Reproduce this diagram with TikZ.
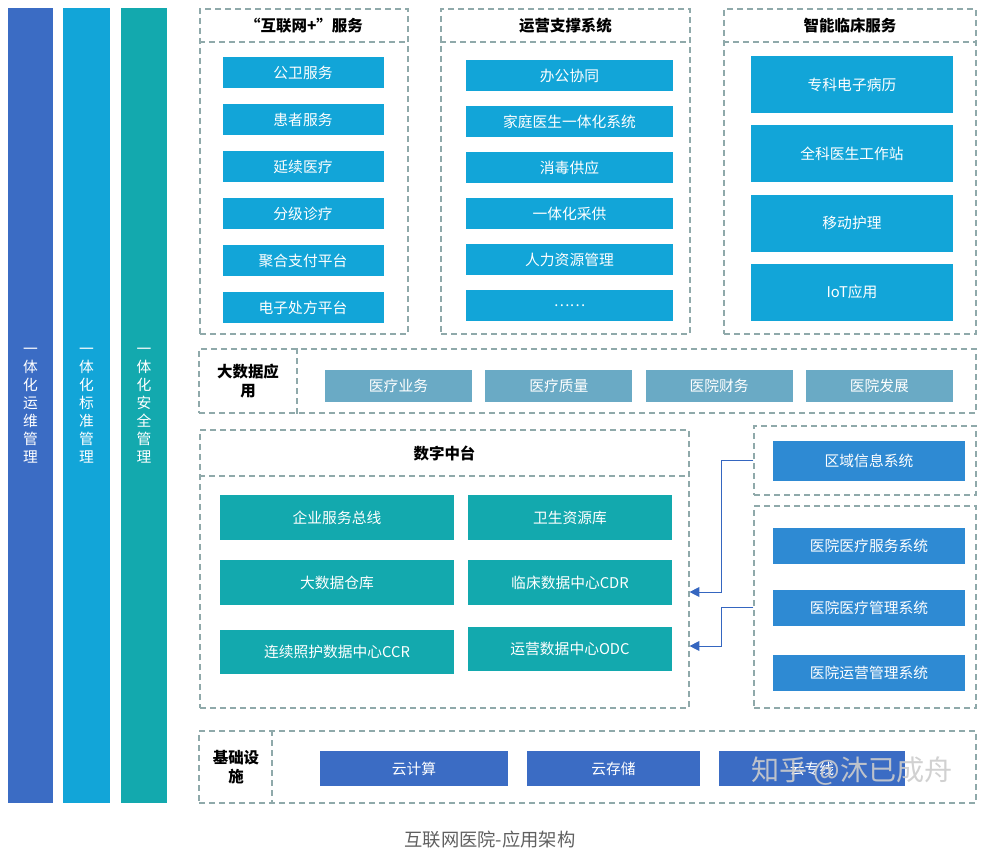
\documentclass[tikz,border=0pt]{standalone}
\usepackage{fontspec}
\setmainfont{Noto Sans CJK SC}
\usepackage{xcolor}
\usepackage{tikz}
\usetikzlibrary{positioning, arrows.meta}

\definecolor{barblue}{HTML}{3B6CC4}
\definecolor{barcyan}{HTML}{12A5D8}
\definecolor{barteal}{HTML}{13A9AE}
\definecolor{bdsteel}{HTML}{6AAAC5}
\definecolor{sysblue}{HTML}{2E8AD3}
\definecolor{dashgray}{HTML}{8FA9AA}
\definecolor{linkblue}{HTML}{3566C0}

\begin{document}
\begin{tikzpicture}[
    x=0.25mm, y=-0.25mm,
    every node/.style={font=\fontsize{10.5}{13}\selectfont},
    panel/.style={rectangle, draw=dashgray, dash pattern=on 1.5mm off 1mm, line width=0.8pt, inner sep=0pt},
    sep/.style={draw=dashgray, dash pattern=on 1.5mm off 1mm, line width=0.8pt},
    bar/.style={rectangle, minimum height=198.75mm, align=center, text=white, inner sep=0pt, font=\fontsize{10.5}{12.8}\selectfont},
    item/.style={rectangle, text=white, inner sep=0pt},
    head/.style={font=\fontsize{11}{13}\selectfont\bfseries, align=center},
    link/.style={draw=linkblue, line width=0.6pt, -{Triangle[width=7pt, length=7pt]}}
]
    \useasboundingbox (0,0) rectangle (985,852);

    % Left bars
    \node[bar, fill=barblue, minimum width=11.25mm] (ops) at (30.5,405.5) {一\\体\\化\\运\\维\\管\\理};
    \node[bar, fill=barcyan, minimum width=11.75mm] (std) at (86.5,405.5) {一\\体\\化\\标\\准\\管\\理};
    \node[bar, fill=barteal, minimum width=11.5mm] (sec) at (144,405.5) {一\\体\\化\\安\\全\\管\\理};

    % Top panels
    \node[panel, minimum width=52mm, minimum height=81.25mm] (web) at (304,171.5) {};
    \node[panel, minimum width=62.25mm, minimum height=81.25mm] (opsys) at (565.5,171.5) {};
    \node[panel, minimum width=63mm, minimum height=81.25mm] (clinic) at (850,171.5) {};
    \draw[sep] (web.west |- 0,42) -- (web.east |- 0,42);
    \draw[sep] (opsys.west |- 0,42) -- (opsys.east |- 0,42);
    \draw[sep] (clinic.west |- 0,42) -- (clinic.east |- 0,42);
    \node[head] (webhead) at (304,26) {“互联网+”服务};
    \node[head] (opshead) at (565.5,26) {运营支撑系统};
    \node[head] (clinichead) at (850,26) {智能临床服务};

    \foreach \t [count=\i] in {公卫服务,患者服务,延续医疗,分级诊疗,聚合支付平台,电子处方平台}
        \node[item, fill=barcyan, minimum width=40.25mm, minimum height=7.75mm] (web\i) at (303,25.5+47*\i) {\t};
    \foreach \t [count=\i] in {办公协同,家庭医生一体化系统,消毒供应,一体化采供,人力资源管理,……}
        \node[item, fill=barcyan, minimum width=51.75mm, minimum height=7.75mm] (ops\i) at (569.5,29.5+46*\i) {\t};
    \foreach \t [count=\i] in {专科电子病历,全科医生工作站,移动护理,IoT应用}
        \node[item, fill=barcyan, minimum width=50.5mm, minimum height=14.25mm] (cl\i) at (852,15.5+69.2*\i) {\t};

    % Big data row
    \node[panel, minimum width=194.25mm, minimum height=16mm] (bigdata) at (587.5,381) {};
    \draw[sep] (bigdata.north -| 297,0) -- (bigdata.south -| 297,0);
    \node[head] (bdhead) at (248,381) {大数据应\\用};
    \foreach \t [count=\i] in {医疗业务,医疗质量,医院财务,医院发展}
        \node[item, fill=bdsteel, minimum width=36.75mm, minimum height=8mm] (bd\i) at (238.2+160.3*\i,386) {\t};

    % Digital platform
    \node[panel, minimum width=122.25mm, minimum height=69.5mm] (zt) at (444.5,569) {};
    \draw[sep] (zt.west |- 0,476) -- (zt.east |- 0,476);
    \node[head] (zthead) at (444.5,453) {数字中台};
    \node[item, fill=barteal, minimum width=58.5mm, minimum height=11.25mm] (esb) at (337,517.5) {企业服务总线};
    \node[item, fill=barteal, minimum width=51mm, minimum height=11.25mm] (hrdb) at (570,517.5) {卫生资源库};
    \node[item, fill=barteal, minimum width=58.5mm, minimum height=11.25mm] (dw) at (337,582.5) {大数据仓库};
    \node[item, fill=barteal, minimum width=51mm, minimum height=11.25mm] (cdr) at (570,582.5) {临床数据中心CDR};
    \node[item, fill=barteal, minimum width=58.5mm, minimum height=11mm] (ccr) at (337,651.5) {连续照护数据中心CCR};
    \node[item, fill=barteal, minimum width=51mm, minimum height=11mm] (odc) at (570,649) {运营数据中心ODC};

    % Right side systems
    \node[panel, minimum width=55.5mm, minimum height=17.25mm] (reg) at (865,460.5) {};
    \node[item, fill=sysblue, minimum width=48mm, minimum height=10mm] (regsys) at (869,461) {区域信息系统};
    \node[panel, minimum width=55.5mm, minimum height=50.5mm] (hosp) at (865,607) {};
    \node[item, fill=sysblue, minimum width=48mm, minimum height=9mm] (hsvc) at (869,546) {医院医疗服务系统};
    \node[item, fill=sysblue, minimum width=48mm, minimum height=9mm] (hmgt) at (869,608) {医院医疗管理系统};
    \node[item, fill=sysblue, minimum width=48mm, minimum height=9mm] (hops) at (869,673) {医院运营管理系统};

    % Links into the platform
    \coordinate (in1) at (zt.east |- 0,592);
    \coordinate (in2) at (zt.east |- 0,646);
    \draw[link] (reg.west) -- ++(-32,0) |- (in1);
    \draw[link] (hosp.west |- 0,607) -- ++(-32,0) |- (in2);

    % Infrastructure
    \node[panel, minimum width=194.25mm, minimum height=18mm] (infra) at (587.5,767) {};
    \draw[sep] (infra.north -| 272,0) -- (infra.south -| 272,0);
    \node[head] (infrahead) at (236,767) {基础设\\施};
    \node[item, fill=barblue, minimum width=47mm, minimum height=8.75mm] (cloud1) at (414,768.5) {云计算};
    \node[item, fill=barblue, minimum width=43.25mm, minimum height=8.75mm] (cloud2) at (613.5,768.5) {云存储};
    \node[item, fill=barblue, minimum width=46.5mm, minimum height=8.75mm] (cloud3) at (812,768.5) {云专线};
    \node[text=gray!40, opacity=0.9, font=\fontsize{20}{22}\selectfont] (mark) at (852,771) {知乎 @沐已成舟};

    % Caption
    \node[text=gray!75!black, font=\fontsize{13}{15}\selectfont] (caption) at (490,840) {互联网医院-应用架构};
\end{tikzpicture}
\end{document}
